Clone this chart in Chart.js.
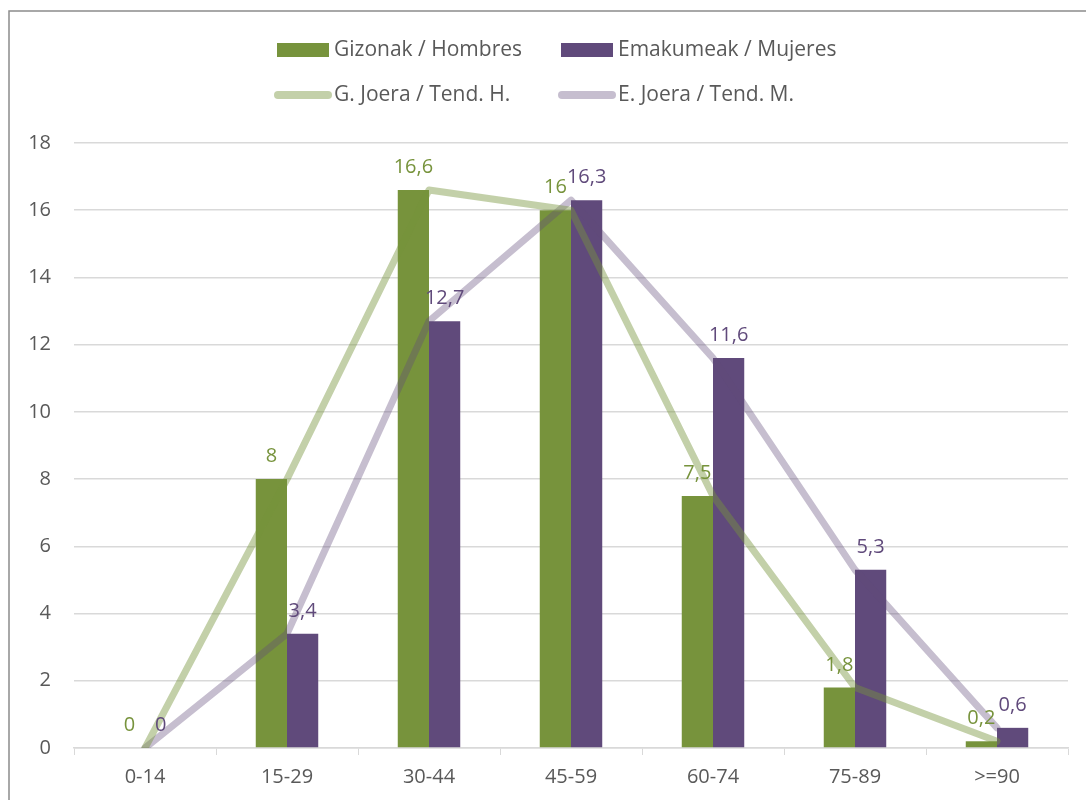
<!DOCTYPE html>
<html>
<head>
<meta charset="utf-8">
<script src="https://cdn.jsdelivr.net/npm/chart.js@4/dist/chart.umd.min.js"></script>
<style>
  html, body { margin: 0; padding: 0; background: #fff; }
  #wrap { width: 1086px; height: 800px; }
</style>
</head>
<body>
<div id="wrap"><canvas id="chart" width="1086" height="800"></canvas></div>
<script>
// Age groups and percentages
const categories = ['0-14', '15-29', '30-44', '45-59', '60-74', '75-89', '>=90'];
const hombres = [0, 8, 16.6, 16, 7.5, 1.8, 0.2];
const mujeres = [0, 3.4, 12.7, 16.3, 11.6, 5.3, 0.6];
const seriesLabels = ['Gizonak / Hombres', 'Emakumeak / Mujeres', 'G. Joera / Tend. H.', 'E. Joera / Tend. M.'];

const green = '#77933C';
const purple = '#604A7B';
const greenLine = 'rgba(119,147,60,0.44)';
const purpleLine = 'rgba(96,74,123,0.36)';
const textColor = '#595959';
const fontFamily = '"Open Sans", "Noto Sans", sans-serif';

// Frame round the chart, like the Excel chart area border
const framePlugin = {
    id: 'frame',
    beforeDraw(chart) {
        const ctx = chart.ctx;
        ctx.save();
        ctx.strokeStyle = '#8c8c8c';
        ctx.lineWidth = 1.5;
        ctx.strokeRect(9, 11, chart.width + 20, chart.height + 20);
        ctx.restore();
    }
};

// Two-row legend laid out in columns
const legendPlugin = {
    id: 'twoRowLegend',
    afterDraw(chart) {
        const ctx = chart.ctx;
        const ds = chart.data.datasets;
        const cols = [277, 561];
        const rows = [50, 95];
        ctx.save();
        ctx.font = '21px ' + fontFamily;
        ctx.textBaseline = 'middle';
        ds.forEach((d, i) => {
            const x = cols[i % 2];
            const y = rows[Math.floor(i / 2)];
            if (d.type === 'line') {
                ctx.strokeStyle = d.borderColor;
                ctx.lineWidth = 8;
                ctx.lineCap = 'round';
                ctx.beginPath();
                ctx.moveTo(x + 1, y);
                ctx.lineTo(x + 51, y);
                ctx.stroke();
            } else {
                ctx.fillStyle = d.backgroundColor;
                ctx.fillRect(x, y - 7, 52, 14);
            }
            ctx.fillStyle = textColor;
            ctx.fillText(d.label, x + 57, y);
        });
        ctx.restore();
    }
};

// Value labels above the bars
const valueLabels = {
    id: 'valueLabels',
    afterDatasetsDraw(chart) {
        const ctx = chart.ctx;
        ctx.save();
        ctx.font = '20px ' + fontFamily;
        ctx.textAlign = 'center';
        ctx.textBaseline = 'alphabetic';
        chart.data.datasets.forEach((d, i) => {
            if (d.type !== 'bar') return;
            const meta = chart.getDatasetMeta(i);
            ctx.fillStyle = d.backgroundColor;
            meta.data.forEach((bar, j) => {
                ctx.fillText(String(d.data[j]).replace('.', ','), bar.x, bar.y - 17);
            });
        });
        ctx.restore();
    }
};

const chart = new Chart(document.getElementById('chart').getContext('2d'), {
    data: {
        labels: categories,
        datasets: [
            {
                type: 'bar',
                label: seriesLabels[0],
                data: hombres,
                backgroundColor: green,
                categoryPercentage: 0.44,
                barPercentage: 1,
                order: 1
            },
            {
                type: 'bar',
                label: seriesLabels[1],
                data: mujeres,
                backgroundColor: purple,
                categoryPercentage: 0.44,
                barPercentage: 1,
                order: 1
            },
            {
                type: 'line',
                label: seriesLabels[2],
                data: hombres,
                borderColor: greenLine,
                borderWidth: 7,
                borderCapStyle: 'round',
                borderJoinStyle: 'round',
                pointRadius: 0,
                tension: 0,
                fill: false,
                order: 0
            },
            {
                type: 'line',
                label: seriesLabels[3],
                data: mujeres,
                borderColor: purpleLine,
                borderWidth: 7,
                borderCapStyle: 'round',
                borderJoinStyle: 'round',
                pointRadius: 0,
                tension: 0,
                fill: false,
                order: 0
            }
        ]
    },
    options: {
        responsive: false,
        animation: false,
        layout: { padding: { top: 143, right: 18, bottom: 0, left: 0 } },
        plugins: {
            legend: { display: false },
            tooltip: { enabled: false }
        },
        scales: {
            x: {
                offset: true,
                grid: {
                    offset: true,
                    drawOnChartArea: false,
                    drawTicks: true,
                    tickLength: 7,
                    color: '#d9d9d9'
                },
                border: { color: '#d9d9d9', width: 1.5 },
                ticks: {
                    color: textColor,
                    font: { size: 20, family: fontFamily },
                    padding: 10
                },
                afterFit(axis) { axis.height = 52; }
            },
            y: {
                min: 0,
                max: 18,
                grid: { color: '#d9d9d9', lineWidth: 1.5, drawTicks: false },
                border: { display: false },
                ticks: {
                    stepSize: 2,
                    color: textColor,
                    font: { size: 20, family: fontFamily },
                    padding: 23
                },
                afterFit(axis) { axis.width = 74; }
            }
        }
    },
    plugins: [framePlugin, legendPlugin, valueLabels]
});
</script>
</body>
</html>
